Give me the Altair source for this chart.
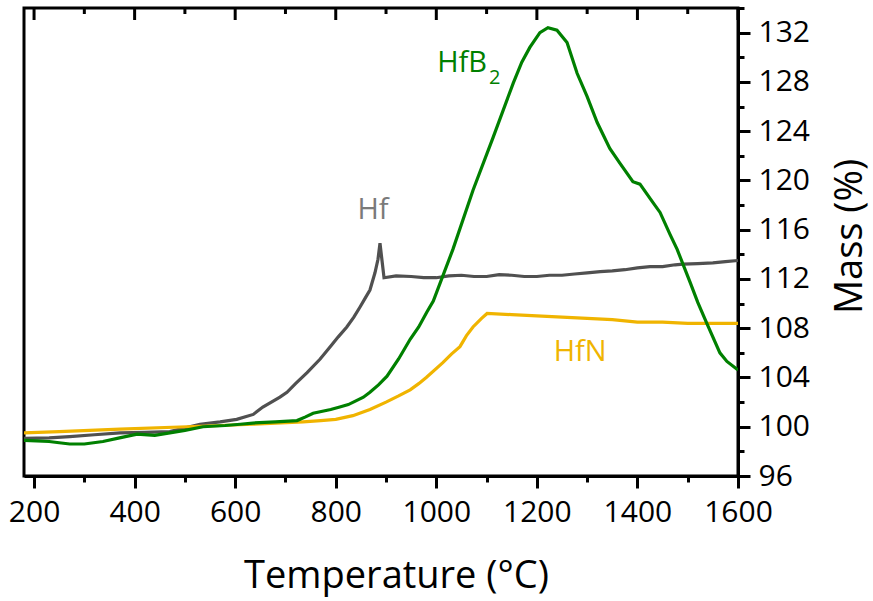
import altair as alt
import pandas as pd

# ---- data ----
hf_x = [180, 230, 271, 320, 371, 420, 470, 530, 570, 603, 636, 655, 689, 703, 720, 743, 769, 789, 805, 822, 836, 848, 858, 868,
        878, 884, 888, 892, 896, 920, 950, 975, 1000, 1025, 1050, 1075, 1100, 1125, 1150, 1175, 1200, 1225, 1250, 1275,
        1300, 1326, 1350, 1375, 1400, 1425, 1450, 1475, 1491, 1520, 1550, 1575, 1600]
hf_y = [99.05, 99.1, 99.2, 99.35, 99.5, 99.55, 99.6, 100.2, 100.4, 100.6, 101.0, 101.6, 102.4, 102.8, 103.5, 104.4, 105.5, 106.5, 107.3, 108.1, 108.9, 109.7, 110.4, 111.1,
        112.5, 113.6, 114.9, 113.5, 112.1, 112.25, 112.2, 112.1, 112.1, 112.25, 112.3, 112.2, 112.2, 112.35, 112.3, 112.2, 112.2, 112.3, 112.3, 112.4,
        112.5, 112.6, 112.65, 112.75, 112.9, 113.0, 113.0, 113.15, 113.2, 113.25, 113.3, 113.4, 113.5]

hfb2_x = [180, 205, 230, 250, 271, 300, 337, 370, 405, 440, 470, 500, 536, 580, 610, 635, 680, 723, 740, 755, 790, 808, 825, 840, 855, 868,
          885, 902, 925, 948, 965, 981, 994, 1033, 1073, 1113, 1153, 1170, 1186, 1206, 1222, 1240, 1260, 1280, 1300, 1320, 1345, 1365,
          1391, 1405, 1431, 1445, 1465, 1479, 1505, 1520, 1538, 1564, 1578, 1600]
hfb2_y = [98.9, 98.85, 98.8, 98.7, 98.6, 98.6, 98.8, 99.1, 99.4, 99.3, 99.5, 99.7, 100.0, 100.1, 100.2, 100.3, 100.4, 100.5, 100.8, 101.1, 101.4, 101.6, 101.8, 102.1, 102.4, 102.8,
          103.4, 104.1, 105.5, 107.1, 108.1, 109.3, 110.2, 114.4, 119.2, 123.5, 127.9, 129.6, 130.8, 132.0, 132.4, 132.2, 131.2, 128.7, 126.8, 124.7, 122.6, 121.4,
          119.9, 119.7, 118.2, 117.4, 115.6, 114.4, 111.7, 110.1, 108.4, 106.0, 105.3, 104.6]

hfn_x = [180, 250, 371, 504, 636, 735, 770, 800, 834, 868, 900, 925, 948, 965, 980, 1013, 1030, 1047, 1060, 1073, 1090, 1101, 1150, 1200,
         1250, 1300, 1350, 1400, 1450, 1500, 1550, 1600]
hfn_y = [99.5, 99.6, 99.8, 100.0, 100.2, 100.4, 100.5, 100.6, 100.9, 101.4, 102.0, 102.5, 103.0, 103.5, 104.0, 105.2, 105.9, 106.5, 107.4, 108.1, 108.8, 109.2, 109.1, 109.0,
         108.9, 108.8, 108.7, 108.5, 108.5, 108.4, 108.4, 108.4]

x_major = [200, 400, 600, 800, 1000, 1200, 1400, 1600]
x_minor = [300, 500, 700, 900, 1100, 1300, 1500]
x_ticks = [200, 300, 400, 500, 600, 700, 800, 900, 1000, 1100, 1200, 1300, 1400, 1500, 1600]
y_ticks = [96, 98, 100, 102, 104, 106, 108, 110, 112, 114, 116, 118, 120, 122, 124, 126, 128, 130, 132, 134]

labels = ["Hf", "HfB", "2", "HfN"]
label_x = [874, 1101, 1105, 1286]
label_y = [117.6, 129.5, 128.3, 106.1]

GRAY, GREEN, GOLD = "#505050", "#008000", "#f0b400"
FONT = "Open Sans"

x_scale = alt.Scale(domain=[180, 1600], nice=False, zero=False)
y_scale = alt.Scale(domain=[96, 134], nice=False, zero=False)

x_axis = alt.Axis(
    orient="bottom", values=x_ticks, title="Temperature (°C)", format="d",
    labelExpr="datum.value % 200 === 0 ? datum.label : ''",
    tickSize={"condition": {"test": "datum.value % 200 === 0", "value": 12}, "value": 6},
    labelFontSize=30, labelFont=FONT, labelColor="black", labelPadding=9,
    titleFontSize=38, titleFont=FONT, titleFontWeight="normal", titleColor="black",
    titleX=372, titleY=111, titleAlign="center", titleBaseline="alphabetic",
    grid=False, domainColor="black", domainWidth=3,
    tickColor="black", tickWidth=3, labelFlush=False, labelOverlap=False,
)
y_axis = alt.Axis(
    orient="right", values=y_ticks, title="Mass (%)", format="d",
    labelExpr="datum.value % 4 === 0 ? datum.label : ''",
    tickSize={"condition": {"test": "datum.value % 4 === 0", "value": 12}, "value": 6},
    labelFontSize=30, labelFont=FONT, labelColor="black", labelPadding=8,
    titleFontSize=38, titleFont=FONT, titleFontWeight="normal", titleColor="black",
    titleAngle=270, titleX=112, titleY=228, titleAlign="center", titleBaseline="middle",
    grid=False, domainColor="black", domainWidth=3,
    tickColor="black", tickWidth=3, labelFlush=False, labelOverlap=False, labelBaseline="middle",
)

def line(xs, ys, color):
    df = pd.DataFrame({"T": xs, "M": ys})
    return alt.Chart(df).mark_line(color=color, strokeWidth=3.2, clip=True).encode(
        x=alt.X("T:Q", scale=x_scale, axis=x_axis),
        y=alt.Y("M:Q", scale=y_scale, axis=y_axis),
    )

hf = line(hf_x, hf_y, GRAY)
hfn = line(hfn_x, hfn_y, GOLD)
hfb2 = line(hfb2_x, hfb2_y, GREEN)

lab_df = pd.DataFrame({"t": labels, "T": label_x, "M": label_y,
                       "c": ["#7a7a7a", GREEN, GREEN, GOLD]})
txt_b = alt.Chart(lab_df[lab_df.t == "HfB"]).mark_text(font=FONT, baseline="middle", align="right", fontSize=29, color=GREEN).encode(
    x=alt.X("T:Q", scale=x_scale, axis=x_axis),
    y=alt.Y("M:Q", scale=y_scale, axis=y_axis),
    text="t:N",
)
txt_sub = alt.Chart(lab_df[lab_df.t == "2"]).mark_text(font=FONT, baseline="middle", align="left", fontSize=20, color=GREEN).encode(
    x=alt.X("T:Q", scale=x_scale, axis=x_axis),
    y=alt.Y("M:Q", scale=y_scale, axis=y_axis),
    text="t:N",
)
txt_other = alt.Chart(lab_df[lab_df.t.isin(["Hf", "HfN"])]).mark_text(font=FONT, baseline="middle", align="center", fontSize=29).encode(
    x=alt.X("T:Q", scale=x_scale, axis=x_axis),
    y=alt.Y("M:Q", scale=y_scale, axis=y_axis),
    text="t:N",
    color=alt.Color("c:N", scale=None),
)

top_major = alt.Chart(pd.DataFrame({"T": x_major})).mark_rule(color="black", strokeWidth=3).encode(
    x=alt.X("T:Q", scale=x_scale, axis=x_axis), y=alt.value(0), y2=alt.value(12))
top_minor = alt.Chart(pd.DataFrame({"T": x_minor})).mark_rule(color="black", strokeWidth=3).encode(
    x=alt.X("T:Q", scale=x_scale, axis=x_axis), y=alt.value(0), y2=alt.value(6))

chart = alt.layer(hf, hfn, hfb2, txt_other, txt_b, txt_sub, top_major, top_minor).properties(
    width=714, height=468,
    autosize=alt.AutoSizeParams(type="none"),
    padding={"left": 24, "top": 8, "right": 135, "bottom": 125},
    background="white",
).configure_view(stroke="black", strokeWidth=3)

chart.save("out.html", embed_options={"renderer": "svg", "actions": False})
